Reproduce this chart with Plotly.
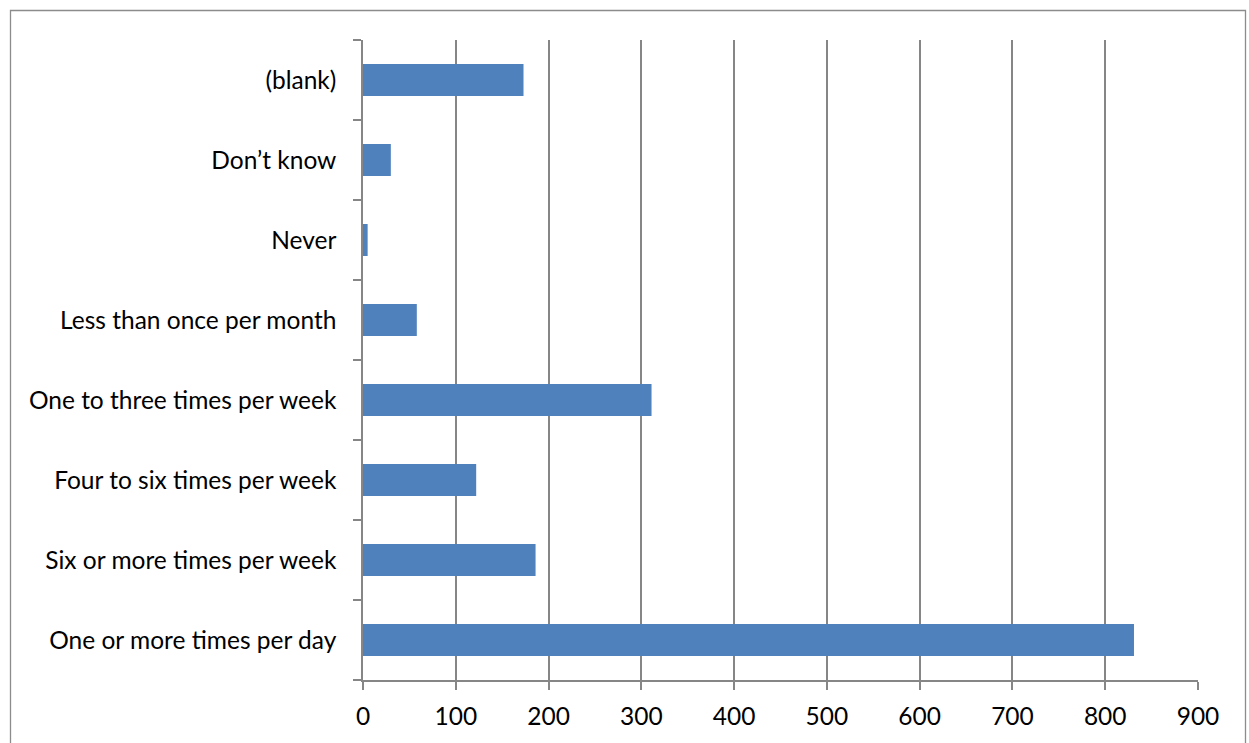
import plotly.graph_objects as go

categories = [
    "One or more times per day",
    "Six or more times per week",
    "Four to six times per week",
    "One to three times per week",
    "Less than once per month",
    "Never",
    "Don\u2019t know",
    "(blank)",
]
values = [831, 186, 122, 311, 58, 5, 30, 173]
x_ticks = [0, 100, 200, 300, 400, 500, 600, 700, 800, 900]

W, H = 1249, 743
L, R, T, B = 363, 1198, 40, 680

fig = go.Figure(go.Bar(
    x=values, y=categories, orientation="h",
    marker=dict(color="#4F81BD", line=dict(width=0)),
    width=0.4,
))

grid = "#868686"
font = dict(family="Lato, Carlito, Calibri, sans-serif", size=24.5, color="#000000")

fig.update_layout(
    width=W, height=H,
    margin=dict(l=L, r=W - R, t=T, b=H - B, pad=0),
    paper_bgcolor="white", plot_bgcolor="white",
    showlegend=False,
    font=font,
    xaxis=dict(
        range=[0, 900], tickvals=x_ticks, ticktext=[str(v) for v in x_ticks],
        showgrid=True, gridcolor=grid, gridwidth=1.5,
        showline=True, linecolor=grid, linewidth=1.5,
        ticks="outside", ticklen=8, tickcolor=grid, tickwidth=1.5,
        ticklabelstandoff=6,
        zeroline=False, fixedrange=True,
    ),
    yaxis=dict(
        type="category", categoryorder="array", categoryarray=categories,
        showgrid=False,
        showline=True, linecolor=grid, linewidth=1.5,
        ticks="outside", ticklen=8, tickcolor=grid, tickwidth=1.5,
        tickson="boundaries", ticklabelstandoff=20,
        zeroline=False, fixedrange=True,
    ),
)

def px_to_paper_x(px):
    return (px - L) / (R - L)

def px_to_paper_y(py):
    return (B - py) / (B - T)

fig.add_shape(
    type="rect", xref="paper", yref="paper",
    x0=px_to_paper_x(10.5), x1=px_to_paper_x(1245.5),
    y0=px_to_paper_y(744), y1=px_to_paper_y(10.5),
    line=dict(color="#8C8C8C", width=1.3), fillcolor="rgba(0,0,0,0)",
    layer="below",
)

fig.write_html("out.html", config={"displayModeBar": False})

# remove default body margin so the figure sits at the page origin
with open("out.html", "r", encoding="utf-8") as f:
    html = f.read()
html = html.replace("<body>", '<body style="margin:0;padding:0;overflow:hidden">', 1)
with open("out.html", "w", encoding="utf-8") as f:
    f.write(html)
